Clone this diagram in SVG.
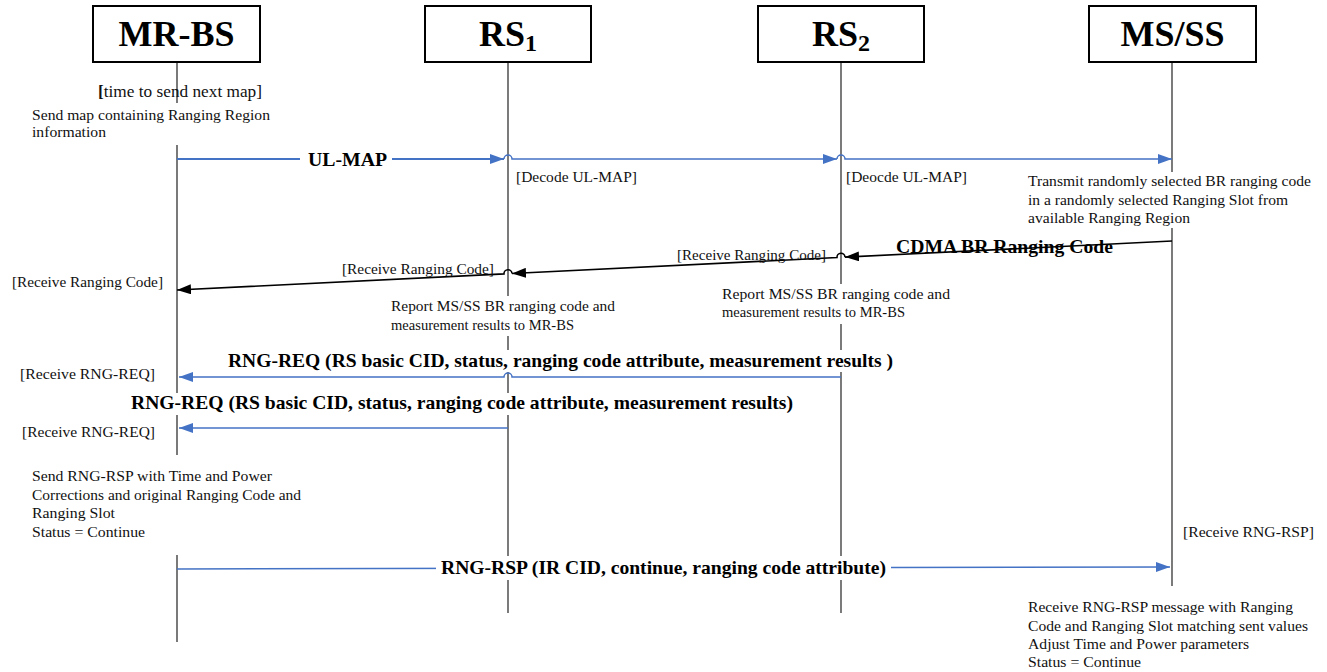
<svg xmlns="http://www.w3.org/2000/svg" width="1327" height="672" viewBox="0 0 1327 672">
  <style>
    .box { fill: #ffffff; stroke: #000000; stroke-width: 2; }
    text { font-family: 'Liberation Serif', 'DejaVu Serif', serif; }
    .title { font-weight: bold; font-size: 36px; fill: #000; }
    .life { stroke: #222; stroke-width: 1.2; fill: none; }
    .note { font-size: 15px; fill: #111; }
    .big { font-size: 17px; fill: #111; }
    .msg { font-weight: bold; font-size: 19px; fill: #000; }
    .blue { stroke: #4472C4; stroke-width: 1.5; fill: none; }
    .blueThick { stroke: #4472C4; stroke-width: 2; fill: none; }
    .black { stroke: #000; stroke-width: 1.6; fill: none; }
    .mask { fill: #ffffff; }
  </style>
  <defs>
    <marker id="arrowBlue" viewBox="0 0 14 10" refX="14" refY="5" markerWidth="14" markerHeight="10" markerUnits="userSpaceOnUse" orient="auto">
      <path d="M0,0 L14,5 L0,10 Z" fill="#4472C4"/>
    </marker>
    <marker id="arrowBlack" viewBox="0 0 14 10" refX="14" refY="5" markerWidth="14" markerHeight="10" markerUnits="userSpaceOnUse" orient="auto">
      <path d="M0,0 L14,5 L0,10 Z" fill="#000"/>
    </marker>
  </defs>

  <rect width="1327" height="672" fill="#ffffff"/>

  <!-- lifelines -->
  <g id="lifelines">
    <path class="life" d="M177,62 V103 M177,145 V455 M177,555 V642"/>
    <path class="life" d="M508,62 V613"/>
    <path class="life" d="M841,62 V613"/>
    <path class="life" d="M1172,62 V586"/>
  </g>

  <!-- participants -->
  <g id="node-mrbs">
    <rect class="box" x="93" y="6" width="167" height="56"/>
    <text class="title" x="176.5" y="46" text-anchor="middle">MR-BS</text>
  </g>
  <g id="node-rs1">
    <rect class="box" x="425" y="6" width="166" height="56"/>
    <text class="title" x="508" y="46" text-anchor="middle">RS<tspan font-size="24" dy="5">1</tspan></text>
  </g>
  <g id="node-rs2">
    <rect class="box" x="758" y="6" width="166" height="56"/>
    <text class="title" x="841" y="46" text-anchor="middle">RS<tspan font-size="24" dy="5">2</tspan></text>
  </g>
  <g id="node-msss">
    <rect class="box" x="1089" y="6" width="167" height="56"/>
    <text class="title" x="1172.5" y="46" text-anchor="middle">MS/SS</text>
  </g>

  <!-- messages -->
  <g id="connectors">
    <!-- UL-MAP broadcast -->
    <path class="blueThick" d="M177,159 H504" marker-end="url(#arrowBlue)"/>
    <path class="blue" d="M504,159 A4,4 0 0 1 512,159 H837" marker-end="url(#arrowBlue)"/>
    <path class="blue" d="M837,159 A4,4 0 0 1 845,159 H1172" marker-end="url(#arrowBlue)"/>

    <!-- CDMA BR ranging code relayed towards MR-BS -->
    <path class="black" d="M1172,241 L845,257.1" marker-end="url(#arrowBlack)"/>
    <path class="black" d="M845,257.1 A4,4 0 0 0 837,257.5 L512,273.5" marker-end="url(#arrowBlack)"/>
    <path class="black" d="M512,273.5 A4,4 0 0 0 504,273.9 L177,290" marker-end="url(#arrowBlack)"/>

    <!-- RNG-REQ from RS2 -->
    <path class="blue" d="M841,377 H512 A4,4 0 0 0 504,377 H179" marker-end="url(#arrowBlue)"/>
    <!-- RNG-REQ from RS1 -->
    <path class="blue" d="M508,428 H179" marker-end="url(#arrowBlue)"/>
    <!-- RNG-RSP to MS/SS -->
    <path class="blue" d="M177,569 L1170,567" marker-end="url(#arrowBlue)"/>
  </g>

  <!-- message labels -->
  <g id="labels">
    <rect class="mask" x="300" y="148" width="92" height="22"/>
    <text class="msg" x="308" y="166" textLength="79" lengthAdjust="spacingAndGlyphs">UL-MAP</text>

    <text class="msg" x="896" y="253" textLength="217" lengthAdjust="spacingAndGlyphs">CDMA BR Ranging Code</text>

    <rect class="mask" x="226" y="350" width="670" height="22"/>
    <text class="msg" x="228" y="367" textLength="665" lengthAdjust="spacingAndGlyphs">RNG-REQ (RS basic CID, status, ranging code attribute, measurement results )</text>

    <rect class="mask" x="129" y="393" width="667" height="22"/>
    <text class="msg" x="131" y="409" textLength="662" lengthAdjust="spacingAndGlyphs">RNG-REQ (RS basic CID, status, ranging code attribute, measurement results)</text>

    <rect class="mask" x="436" y="556" width="455" height="24"/>
    <text class="msg" x="441" y="574" textLength="445" lengthAdjust="spacingAndGlyphs">RNG-RSP (IR CID, continue, ranging code attribute)</text>
  </g>

  <!-- activity notes -->
  <g id="notes">
    <text class="big" x="98" y="97" textLength="164" lengthAdjust="spacingAndGlyphs"><tspan font-weight="bold">[</tspan>time to send next map]</text>
    <text class="note" x="32" y="120" textLength="238" lengthAdjust="spacingAndGlyphs">Send map containing Ranging Region</text>
    <text class="note" x="32" y="137" textLength="74" lengthAdjust="spacingAndGlyphs">information</text>

    <text class="note" x="516" y="182" textLength="121" lengthAdjust="spacingAndGlyphs">[Decode UL-MAP]</text>
    <text class="note" x="846" y="182" textLength="121" lengthAdjust="spacingAndGlyphs">[Deocde UL-MAP]</text>

    <rect class="mask" x="1026" y="172" width="290" height="56"/>
    <text class="note" x="1028" y="186" textLength="283" lengthAdjust="spacingAndGlyphs">Transmit randomly selected BR ranging code</text>
    <text class="note" x="1028" y="205" textLength="260" lengthAdjust="spacingAndGlyphs">in a randomly selected Ranging Slot from</text>
    <text class="note" x="1028" y="223" textLength="162" lengthAdjust="spacingAndGlyphs">available Ranging Region</text>

    <text class="note" x="677" y="260" textLength="149" lengthAdjust="spacingAndGlyphs">[Receive Ranging Code]</text>
    <text class="note" x="342" y="274" textLength="152" lengthAdjust="spacingAndGlyphs">[Receive Ranging Code]</text>
    <text class="note" x="12" y="287" textLength="151" lengthAdjust="spacingAndGlyphs">[Receive Ranging Code]</text>

    <rect class="mask" x="389" y="296" width="228" height="40"/>
    <text class="note" x="391" y="311" textLength="224" lengthAdjust="spacingAndGlyphs">Report MS/SS BR ranging code and</text>
    <text class="note" x="391" y="330" textLength="183" lengthAdjust="spacingAndGlyphs">measurement results to MR-BS</text>

    <rect class="mask" x="720" y="284" width="232" height="40"/>
    <text class="note" x="722" y="299" textLength="228" lengthAdjust="spacingAndGlyphs">Report MS/SS BR ranging code and</text>
    <text class="note" x="722" y="317" textLength="183" lengthAdjust="spacingAndGlyphs">measurement results to MR-BS</text>

    <text class="note" x="20" y="379" textLength="135" lengthAdjust="spacingAndGlyphs">[Receive RNG-REQ]</text>
    <text class="note" x="22" y="437" textLength="133" lengthAdjust="spacingAndGlyphs">[Receive RNG-REQ]</text>

    <text class="note" x="32" y="481" textLength="240" lengthAdjust="spacingAndGlyphs">Send RNG-RSP with Time and Power</text>
    <text class="note" x="32" y="500" textLength="269" lengthAdjust="spacingAndGlyphs">Corrections and original Ranging Code and</text>
    <text class="note" x="32" y="518" textLength="83" lengthAdjust="spacingAndGlyphs">Ranging Slot</text>
    <text class="note" x="32" y="537" textLength="113" lengthAdjust="spacingAndGlyphs">Status = Continue</text>

    <text class="note" x="1183" y="537" textLength="131" lengthAdjust="spacingAndGlyphs">[Receive RNG-RSP]</text>

    <text class="note" x="1028" y="612" textLength="265" lengthAdjust="spacingAndGlyphs">Receive RNG-RSP message with Ranging</text>
    <text class="note" x="1028" y="631" textLength="280" lengthAdjust="spacingAndGlyphs">Code and Ranging Slot matching sent values</text>
    <text class="note" x="1028" y="649" textLength="221" lengthAdjust="spacingAndGlyphs">Adjust Time and Power parameters</text>
    <text class="note" x="1028" y="667" textLength="113" lengthAdjust="spacingAndGlyphs">Status = Continue</text>
  </g>
</svg>
